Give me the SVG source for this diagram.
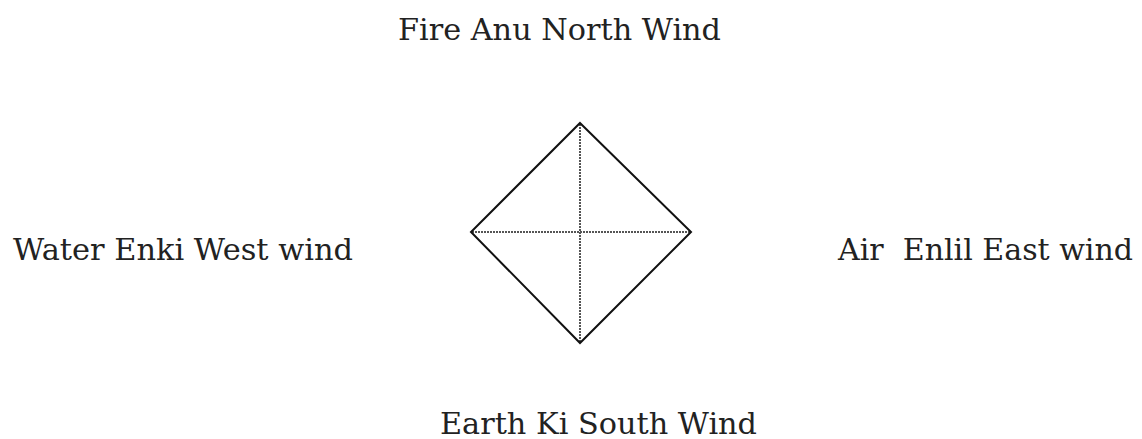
<svg xmlns="http://www.w3.org/2000/svg" width="1142" height="439" viewBox="0 0 1142 439">
<style>
.t{font-family:"DejaVu Serif","Liberation Serif",serif;font-size:30px;fill:#222;white-space:pre}
.d{fill:none;stroke:#111;stroke-width:2}
.x{stroke:#555;stroke-width:2;stroke-dasharray:2 1}
</style>
<rect width="1142" height="439" fill="#fff"/>
<g id="connectors">
<line class="x" x1="580" y1="124" x2="580" y2="342"/>
<line class="x" x1="472" y1="232" x2="690" y2="232"/>
</g>
<g id="diamond"><polygon class="d" points="580,123 691,232 580,343 471,232"/></g>
<g id="north"><text class="t" x="398" y="40" textLength="323" lengthAdjust="spacingAndGlyphs">Fire Anu North Wind</text></g>
<g id="west"><text class="t" x="13" y="260" textLength="340" lengthAdjust="spacingAndGlyphs">Water Enki West wind</text></g>
<g id="east"><text class="t" x="838" y="260" textLength="295" lengthAdjust="spacingAndGlyphs">Air  Enlil East wind</text></g>
<g id="south"><text class="t" x="440" y="434" textLength="317" lengthAdjust="spacingAndGlyphs">Earth Ki South Wind</text></g>
</svg>
